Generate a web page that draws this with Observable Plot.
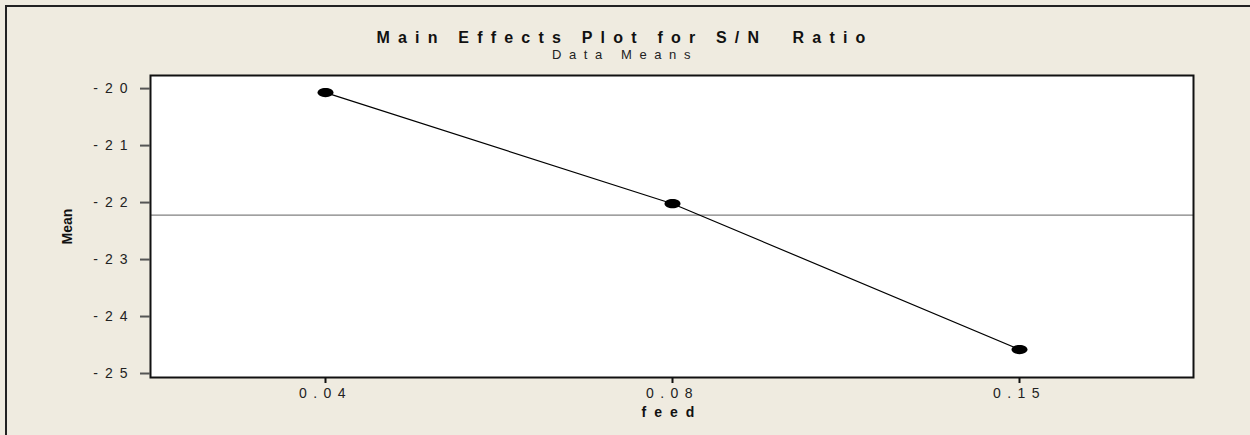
<!DOCTYPE html>
<html>
<head>
<meta charset="utf-8">
<script src="https://cdn.jsdelivr.net/npm/d3@7"></script>
<script src="https://cdn.jsdelivr.net/npm/@observablehq/plot@0.6"></script>
<style>
  html, body { margin: 0; padding: 0; background: #efebe0; overflow: hidden; }
  #wrap { position: relative; width: 1250px; height: 435px; background: #efebe0; overflow: hidden; font-family: "Liberation Sans", Arial, sans-serif; }
  #edgeTop { position: absolute; left: 5px; top: 5px; width: 1245px; height: 2px; background: #222; }
  #edgeLeft { position: absolute; left: 5px; top: 5px; width: 2px; height: 430px; background: #222; }
  #title { position: absolute; left: 0; width: 1250px; top: 29px; text-align: center; font-weight: bold; font-size: 16px; letter-spacing: 8.2px; color: #111; white-space: pre; }
  #subtitle { position: absolute; left: 0; width: 1250px; top: 47px; text-align: center; font-size: 13px; letter-spacing: 7.6px; color: #222; white-space: pre; }
  #chart { position: absolute; left: 0; top: 62px; }
</style>
</head>
<body>
<div id="wrap">
  <div id="title">Main Effects Plot for S/N  Ratio</div>
  <div id="subtitle">Data Means</div>
  <div id="chart"></div>
  <div id="edgeTop"></div>
  <div id="edgeLeft"></div>
</div>
<script>
const feedLevels = ["0.04", "0.08", "0.15"];
const meanValues = [-20.07, -22.02, -24.58];
const yTicks = [-20, -21, -22, -23, -24, -25];
const grandMean = -22.22;

const data = feedLevels.map((f, i) => ({feed: f, mean: meanValues[i]}));

const ellipse = {
  draw(ctx, size) {
    const rx = 8, ry = 4.6, k = 0.5523;
    ctx.moveTo(rx, 0);
    ctx.bezierCurveTo(rx, ry * k, rx * k, ry, 0, ry);
    ctx.bezierCurveTo(-rx * k, ry, -rx, ry * k, -rx, 0);
    ctx.bezierCurveTo(-rx, -ry * k, -rx * k, -ry, 0, -ry);
    ctx.bezierCurveTo(rx * k, -ry, rx, -ry * k, rx, 0);
    ctx.closePath();
  }
};

const plot = Plot.plot({
  width: 1250,
  height: 373,
  marginTop: 13,
  marginBottom: 58,
  marginLeft: 150,
  marginRight: 57,
  style: {background: "transparent", fontFamily: "'Liberation Sans', Arial, sans-serif", fontSize: "14px", color: "#222"},
  x: {type: "point", domain: feedLevels, padding: 0.5, label: null},
  y: {domain: [-25.07, -19.77], label: null},
  marks: [
    Plot.frame({fill: "white"}),
    Plot.ruleY([grandMean], {stroke: "#808080", strokeWidth: 1.2}),
    Plot.line(data, {x: "feed", y: "mean", stroke: "black", strokeWidth: 1.2}),
    Plot.dot(data, {x: "feed", y: "mean", symbol: ellipse, fill: "black", stroke: "none"}),
    Plot.frame({stroke: "#111", strokeWidth: 2}),
    Plot.axisY({ticks: yTicks, tickSize: 10, tickPadding: 6, stroke: "#555", strokeWidth: 2, tickFormat: d => String(d), fontSize: 14, fill: "#222"}),
    Plot.axisX({tickSize: 6, tickPadding: 5, stroke: "#111", strokeWidth: 2, fontSize: 14, fill: "#222", label: null}),
    Plot.text(["feed"], {frameAnchor: "bottom", lineAnchor: "middle", textAnchor: "middle", dy: 35, fontWeight: "bold", fontSize: 14, fill: "#111"}),
    Plot.text(["Mean"], {frameAnchor: "left", lineAnchor: "middle", textAnchor: "middle", dx: -83, rotate: -90, fontWeight: "bold", fontSize: 14, fill: "#111"})
  ]
});

const svg = d3.select(plot);
svg.selectAll('g[aria-label="y-axis tick label"] text').style("letter-spacing", "7px");
svg.selectAll('g[aria-label="x-axis tick label"] text').style("letter-spacing", "6.5px");
svg.selectAll('g[aria-label="text"] text').filter(function() { return this.textContent === "feed"; }).style("letter-spacing", "8px");
document.getElementById("chart").appendChild(plot);
</script>
</body>
</html>
